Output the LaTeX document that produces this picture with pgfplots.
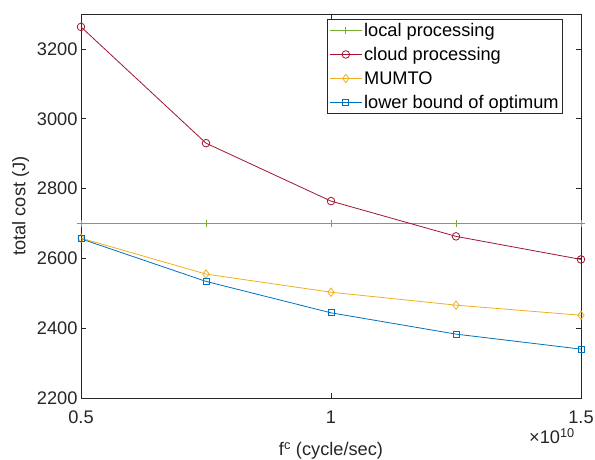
\documentclass[border=0pt]{standalone}
\usepackage{fontspec}
\setmainfont{Liberation Sans}
\usepackage{pgfplots}
\pgfplotsset{compat=1.18}
\definecolor{mgreen}{rgb}{0.4660,0.6740,0.1880}
\definecolor{mred}{rgb}{0.6350,0.0780,0.1840}
\definecolor{myellow}{rgb}{0.9290,0.6940,0.1250}
\definecolor{mblue}{rgb}{0,0.4470,0.7410}
\definecolor{axgray}{rgb}{0.15,0.15,0.15}
\begin{document}
\begin{tikzpicture}
\path[use as bounding box] (-81bp,-62bp) rectangle (514bp,398bp);
\begin{axis}[
  name=ax,
  at={(0,0)}, anchor=south west,
  scale only axis, width=500bp, height=384bp,
  xmin=0.5, xmax=1.5, ymin=2200, ymax=3300,
  xtick={0.5,1,1.5}, xticklabels={0.5,1,1.5},
  ytick={2200,2400,2600,2800,3000,3200},
  tick align=inside, tick pos=both,
  major tick length=5bp,
  axis line style={axgray, line width=0.7bp},
  every tick/.style={axgray, line width=0.7bp},
  tick label style={font=\fontsize{18.3}{21}\selectfont, text=axgray},
  xticklabel style={yshift=-9bp},
  /pgf/number format/assume math mode=true,
  /pgf/number format/1000 sep={},
  label style={font=\fontsize{18.3}{21}\selectfont, text=axgray},
  xlabel={f\textsuperscript{c} (cycle/sec)},
  ylabel={total cost (J)},
  xlabel style={yshift=-12bp},
  ylabel style={yshift=1bp},
  legend style={font=\fontsize{18.3}{21}\selectfont, draw=axgray, line width=0.7bp,
    at={(0.964,0.987)}, anchor=north east, inner xsep=2bp, inner ysep=1.5bp, row sep=5.6bp, text=black},
  legend cell align=left,
  legend image code/.code={\draw[mark repeat=2,mark phase=2,#1] plot coordinates {(0cm,0cm) (0.56cm,0cm) (1.12cm,0cm)};},
  every axis plot/.append style={line width=0.8bp},
]
\addplot[mgreen, mark=+, mark size=3.5bp] coordinates {(0.5,2700) (0.75,2700) (1,2700) (1.25,2700) (1.5,2700)};
\addlegendentry{local processing}
\addplot[mred, mark=o, mark size=3.8bp] coordinates {(0.5,3263) (0.75,2930) (1,2764) (1.25,2663) (1.5,2597)};
\addlegendentry{cloud processing}
\addplot[myellow, mark=diamond, mark size=4.2bp] coordinates {(0.5,2658) (0.75,2555) (1,2503) (1.25,2466) (1.5,2437)};
\addlegendentry{MUMTO}
\addplot[mblue, mark=square, mark size=3bp] coordinates {(0.5,2656) (0.75,2534) (1,2444) (1.25,2383) (1.5,2340)};
\addlegendentry{lower bound of optimum}
\end{axis}
\node[anchor=north east, font=\fontsize{18.3}{21}\selectfont, text=axgray, inner sep=0pt] at ([xshift=-6bp,yshift=-30bp]ax.south east) {×10\textsuperscript{10}};
\end{tikzpicture}
\end{document}
